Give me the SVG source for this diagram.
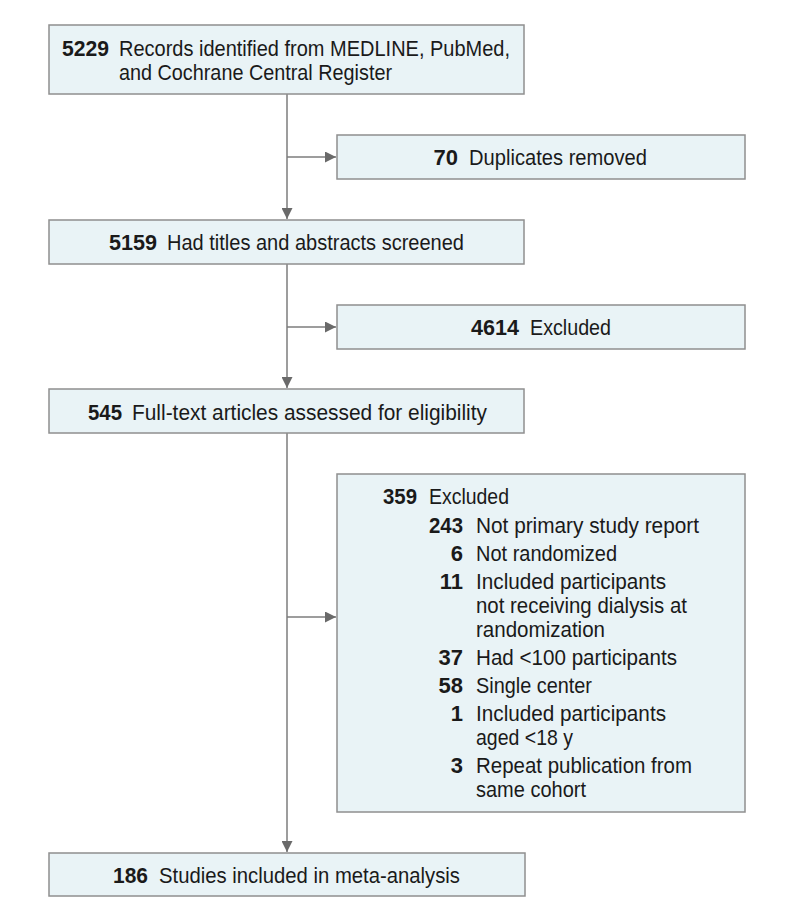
<svg xmlns="http://www.w3.org/2000/svg" width="794" height="916" viewBox="0 0 794 916">
<defs>
<style>
.box{fill:#e9f3f6;stroke:#8f8f8f;stroke-width:1.5}
.ln{stroke:#7d7d7d;stroke-width:1.5;fill:none}
text{font-family:"Liberation Sans",Arial,sans-serif;font-size:22px;fill:#1a1a1a}
.n{font-weight:bold;text-anchor:end}
</style>
<marker id="ah" viewBox="0 0 10 10" refX="10" refY="5" markerWidth="11" markerHeight="11" markerUnits="userSpaceOnUse" orient="auto">
<path d="M0,0 L10,5 L0,10 z" fill="#6a6a6a"/>
</marker>
</defs>
<rect width="794" height="916" fill="#ffffff"/>
<g id="connectors">
<line class="ln" x1="287" y1="94" x2="287" y2="219" marker-end="url(#ah)"/>
<line class="ln" x1="287" y1="157" x2="336" y2="157" marker-end="url(#ah)"/>
<line class="ln" x1="287" y1="264" x2="287" y2="388" marker-end="url(#ah)"/>
<line class="ln" x1="287" y1="327" x2="336" y2="327" marker-end="url(#ah)"/>
<line class="ln" x1="287" y1="433" x2="287" y2="852" marker-end="url(#ah)"/>
<line class="ln" x1="287" y1="617" x2="336" y2="617" marker-end="url(#ah)"/>
</g>
<g id="records">
<rect class="box" x="49" y="25" width="475" height="69"/>
<text class="n" x="109" y="56" textLength="47" lengthAdjust="spacingAndGlyphs">5229</text>
<text x="119" y="56" textLength="391" lengthAdjust="spacingAndGlyphs">Records identified from MEDLINE, PubMed,</text>
<text x="119" y="80" textLength="273" lengthAdjust="spacingAndGlyphs">and Cochrane Central Register</text>
</g>
<g id="duplicates">
<rect class="box" x="337" y="135" width="408" height="44"/>
<text class="n" x="458" y="165">70</text>
<text x="469" y="165" textLength="178" lengthAdjust="spacingAndGlyphs">Duplicates removed</text>
</g>
<g id="screened">
<rect class="box" x="49" y="220" width="475" height="44"/>
<text class="n" x="157" y="250" textLength="48" lengthAdjust="spacingAndGlyphs">5159</text>
<text x="167" y="250" textLength="297" lengthAdjust="spacingAndGlyphs">Had titles and abstracts screened</text>
</g>
<g id="excluded1">
<rect class="box" x="337" y="305" width="408" height="44"/>
<text class="n" x="519" y="335" textLength="48" lengthAdjust="spacingAndGlyphs">4614</text>
<text x="530" y="335" textLength="81" lengthAdjust="spacingAndGlyphs">Excluded</text>
</g>
<g id="fulltext">
<rect class="box" x="49" y="389" width="475" height="44"/>
<text class="n" x="122" y="420" textLength="34" lengthAdjust="spacingAndGlyphs">545</text>
<text x="132" y="420" textLength="355" lengthAdjust="spacingAndGlyphs">Full-text articles assessed for eligibility</text>
</g>
<g id="excluded2">
<rect class="box" x="337" y="474" width="408" height="338"/>
<text class="n" x="417" y="504" textLength="34" lengthAdjust="spacingAndGlyphs">359</text>
<text x="429" y="504" textLength="80" lengthAdjust="spacingAndGlyphs">Excluded</text>
<text class="n" x="463" y="532.5" textLength="34" lengthAdjust="spacingAndGlyphs">243</text>
<text x="476" y="532.5" textLength="223" lengthAdjust="spacingAndGlyphs">Not primary study report</text>
<text class="n" x="463" y="560.5">6</text>
<text x="476" y="560.5" textLength="141" lengthAdjust="spacingAndGlyphs">Not randomized</text>
<text class="n" x="463" y="588.5">11</text>
<text x="476" y="588.5" textLength="190" lengthAdjust="spacingAndGlyphs">Included participants</text>
<text x="476" y="612.5" textLength="211" lengthAdjust="spacingAndGlyphs">not receiving dialysis at</text>
<text x="476" y="636.5" textLength="129" lengthAdjust="spacingAndGlyphs">randomization</text>
<text class="n" x="463" y="664.5">37</text>
<text x="476" y="664.5" textLength="201" lengthAdjust="spacingAndGlyphs">Had &lt;100 participants</text>
<text class="n" x="463" y="692.5">58</text>
<text x="476" y="692.5" textLength="116" lengthAdjust="spacingAndGlyphs">Single center</text>
<text class="n" x="463" y="720.5">1</text>
<text x="476" y="720.5" textLength="190" lengthAdjust="spacingAndGlyphs">Included participants</text>
<text x="476" y="744.5" textLength="97" lengthAdjust="spacingAndGlyphs">aged &lt;18 y</text>
<text class="n" x="463" y="772.5">3</text>
<text x="476" y="772.5" textLength="216" lengthAdjust="spacingAndGlyphs">Repeat publication from</text>
<text x="476" y="796.5" textLength="110" lengthAdjust="spacingAndGlyphs">same cohort</text>
</g>
<g id="included">
<rect class="box" x="49" y="853" width="476" height="43"/>
<text class="n" x="148" y="883" textLength="35" lengthAdjust="spacingAndGlyphs">186</text>
<text x="159" y="883" textLength="301" lengthAdjust="spacingAndGlyphs">Studies included in meta-analysis</text>
</g>
</svg>
